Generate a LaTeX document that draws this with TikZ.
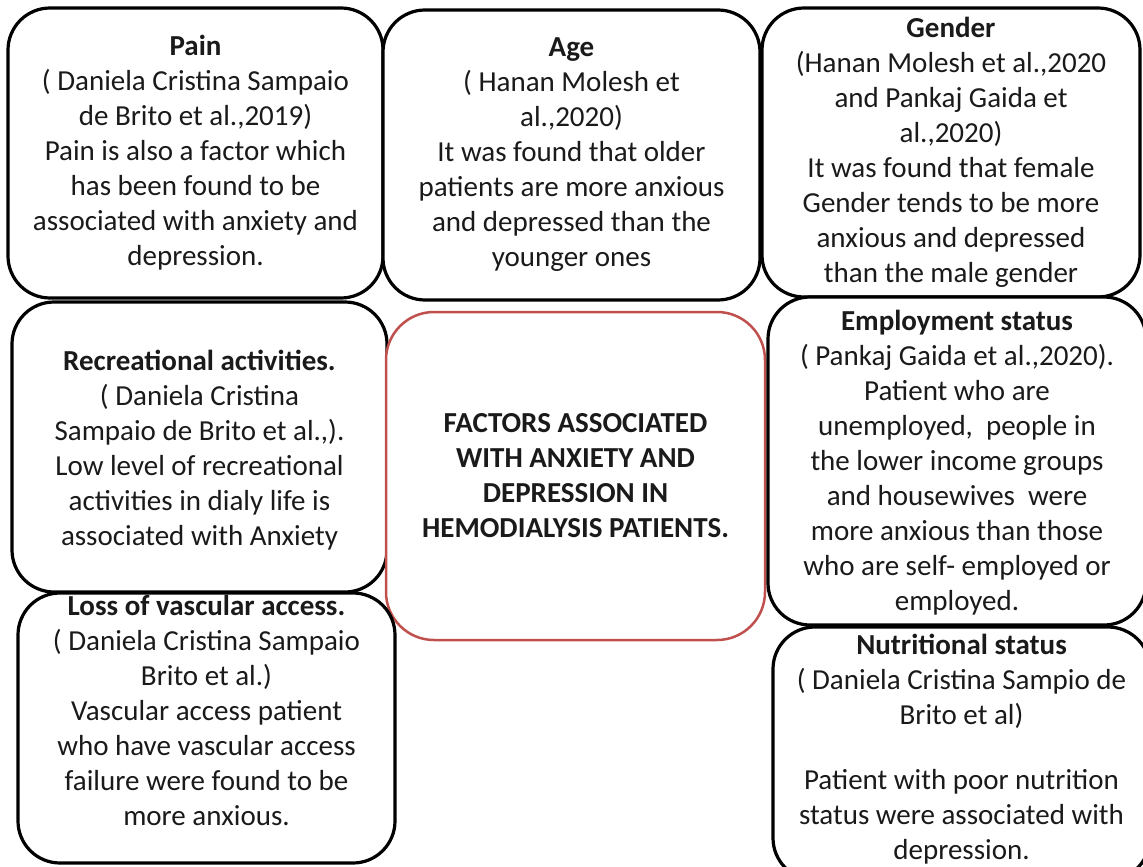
\documentclass[tikz,border=0pt]{standalone}
\usepackage{fontspec}
\setmainfont{Carlito}
\definecolor{boxred}{HTML}{C0504D}
\definecolor{txt}{HTML}{1A1A1A}
\begin{document}
\begin{tikzpicture}[x=1pt,y=-1pt,
  factorbox/.style={draw=black,line width=3.2pt,rounded corners=42pt,fill=white,minimum width=#1},
  centerbox/.style={draw=boxred,line width=2.5pt,rounded corners=48pt,fill=white},
  boxtext/.style={text=txt,align=center,font=\fontsize{29}{35}\selectfont,inner sep=0pt}]
\useasboundingbox (0,0) rectangle (1143,867);
\clip (0,0) rectangle (1143,867);
\fill[white] (0,0) rectangle (1143,867);
% boxes
\node[factorbox=375pt,minimum height=290pt] (pain) at (195.5,153) {};
\node[factorbox=377pt,minimum height=290pt] (age) at (571.5,155) {};
\node[factorbox=378pt,minimum height=289pt] (gender) at (951,152.5) {};
\node[factorbox=375pt,minimum height=290pt] (recr) at (199.5,447) {};
\node[centerbox,minimum width=379pt,minimum height=328pt] (main) at (575.5,476) {};
\node[factorbox=378pt,minimum height=328pt] (empl) at (957,461) {};
\node[factorbox=377pt,minimum height=270pt] (loss) at (206.5,728) {};
\node[factorbox=377pt,minimum height=253pt] (nutr) at (961.5,753.5) {};
% texts
\node[boxtext] (painT) at (pain.center) {\textbf{Pain}\\( Daniela Cristina Sampaio\\de Brito et al.,2019)\\Pain is also a factor which\\has been found to be\\associated with anxiety and\\depression.};
\node[boxtext] (ageT) at (age.center) {\textbf{Age}\\( Hanan Molesh et\\al.,2020)\\It was found that older\\patients are more anxious\\and depressed than the\\younger ones};
\node[boxtext] (genderT) at (gender.center) {\textbf{Gender}\\(Hanan Molesh et al.,2020\\and Pankaj Gaida et\\al.,2020)\\It was found that female\\Gender tends to be more\\anxious and depressed\\than the male gender};
\node[boxtext] (recrT) at ([yshift=-3pt]recr.center) {\textbf{Recreational activities.}\\( Daniela Cristina\\Sampaio de Brito et al.,).\\Low level of recreational\\activities in dialy life is\\associated with Anxiety};
\node[boxtext,font=\bfseries\fontsize{29}{35}\selectfont] (mainT) at (main.center) {FACTORS ASSOCIATED\\WITH ANXIETY AND\\DEPRESSION IN\\HEMODIALYSIS PATIENTS.};
\node[boxtext] (emplT) at ([yshift=-2pt]empl.center) {\textbf{Employment status}\\( Pankaj Gaida et al.,2020).\\Patient who are\\unemployed,~ people in\\the lower income groups\\and housewives~ were\\more anxious than those\\who are self- employed or\\employed.};
\node[boxtext] (lossT) at ([yshift=18pt]loss.center) {\textbf{Loss of vascular access.}\\( Daniela Cristina Sampaio\\Brito et al.)\\Vascular access patient\\who have vascular access\\failure were found to be\\more anxious.};
\node[boxtext] (nutrT) at ([yshift=4pt]nutr.center) {\textbf{Nutritional status}\\( Daniela Cristina Sampio de\\Brito et al)\\[30pt]Patient with poor nutrition\\status were associated with\\depression.};
\end{tikzpicture}
\end{document}
